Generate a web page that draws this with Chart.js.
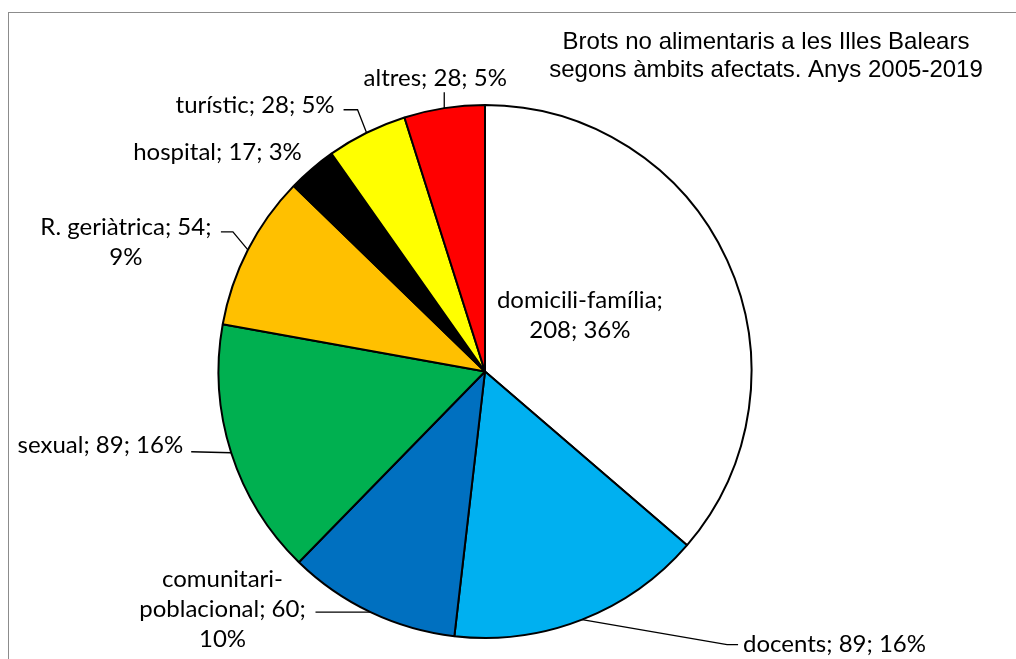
<!DOCTYPE html>
<html lang="ca">
<head>
<meta charset="UTF-8">
<title>Brots no alimentaris</title>
<script src="https://cdn.jsdelivr.net/npm/chart.js"></script>
<style>
    body {
        margin: 0;
        background: #fff;
        overflow: hidden;
    }
    .frame {
        position: absolute;
        left: 8px;
        top: 12px;
        width: 1100px;
        height: 700px;
        border: 1px solid #8c8c8c;
    }
    canvas {
        position: absolute;
        left: 0;
        top: 0;
    }
</style>
</head>
<body>
<div class="frame"></div>
<canvas id="pieChart" width="1016" height="659"></canvas>
<script>
// data
const categories = ['domicili-família', 'docents', 'comunitari-poblacional', 'sexual',
                    'R. geriàtrica', 'hospital', 'turístic', 'altres'];
const outbreaks = [208, 89, 60, 89, 54, 17, 28, 28];
const titleLines = ['Brots no alimentaris a les Illes Balears',
                    'segons àmbits afectats. Anys 2005-2019'];

// styles
const sliceColors = ['#ffffff', '#00b0f0', '#0070c0', '#00b050',
                     '#ffc000', '#000000', '#ffff00', '#ff0000'];
const LABEL_FONT = '24px Lato';
const LABEL_LINE = 30;
const TITLE_FONT = '24px "Liberation Sans"';

// label placement, offsets in px from the middle of each slice's outer edge
const labelLayout = [
    { inside: true, cx: 0.356, cy: -0.21, align: 'center', lines: ['{n};', '{v}; {p}%'] },
    { x: 161, y: 25, align: 'left', lines: ['{n}; {v}; {p}%'], leader: [[145, 25], [156, 25]] },
    { x: -148, y: -3, align: 'center', lines: ['{n0}', '{n1}; {v};', '{p}%'], leader: [[-55, 0]] },
    { x: -48, y: -7, align: 'right', lines: ['{n}; {v}; {p}%'], leader: [[-40, -1]] },
    { x: -122, y: -8, align: 'center', lines: ['{n}; {v};', '{p}%'], leader: [[-15, -18], [-27, -18]] },
    { x: -10, y: -17, align: 'right', lines: ['{n}; {v}; {p}%'] },
    { x: -32, y: -28, align: 'right', lines: ['{n}; {v}; {p}%'], leader: [[-9, -23], [-23, -23]] },
    { x: -9, y: -30, align: 'center', lines: ['{n}; {v}; {p}%'], leader: [[0, -16]] }
];

const sliceLabels = {
    id: 'sliceLabels',
    afterDatasetsDraw(chart) {
        const ctx = chart.ctx;
        const arcs = chart.getDatasetMeta(0).data;
        const total = outbreaks.reduce((a, b) => a + b, 0);
        ctx.save();
        ctx.font = LABEL_FONT;
        ctx.fillStyle = '#000';
        ctx.strokeStyle = '#000';
        ctx.lineWidth = 1.3;
        ctx.textBaseline = 'middle';
        arcs.forEach((arc, i) => {
            const lay = labelLayout[i];
            const p = arc.getProps(['x', 'y', 'outerRadius', 'startAngle', 'endAngle'], true);
            const mid = (p.startAngle + p.endAngle) / 2;
            const ax = p.x + Math.cos(mid) * p.outerRadius;
            const ay = p.y + Math.sin(mid) * p.outerRadius;
            const name = categories[i];
            const cut = name.indexOf('-') + 1;
            const pct = Math.round(outbreaks[i] / total * 100);
            const lines = lay.lines.map(t => t
                .replace('{n0}', name.slice(0, cut))
                .replace('{n1}', name.slice(cut))
                .replace('{n}', name)
                .replace('{v}', outbreaks[i])
                .replace('{p}', pct));

            let tx, ty;
            if (lay.inside) {
                tx = p.x + lay.cx * p.outerRadius;
                ty = p.y + lay.cy * p.outerRadius;
            } else {
                tx = ax + lay.x;
                ty = ay + lay.y;
            }
            if (lay.leader) {
                ctx.beginPath();
                ctx.moveTo(ax, ay);
                lay.leader.forEach(pt => ctx.lineTo(ax + pt[0], ay + pt[1]));
                ctx.stroke();
            }
            ctx.textAlign = lay.align;
            lines.forEach((s, k) => {
                ctx.fillText(s, tx, ty + (k - (lines.length - 1) / 2) * LABEL_LINE);
            });
        });

        // title
        ctx.font = TITLE_FONT;
        ctx.textAlign = 'center';
        ctx.textBaseline = 'alphabetic';
        ctx.fillText(titleLines[0], 766, 49);
        ctx.fillText(titleLines[1], 766, 77);
        ctx.restore();
    }
};

new Chart(document.getElementById('pieChart'), {
    type: 'pie',
    data: {
        labels: categories,
        datasets: [{
            data: outbreaks,
            backgroundColor: sliceColors,
            borderColor: '#000',
            borderWidth: 2
        }]
    },
    options: {
        responsive: false,
        animation: false,
        layout: {
            padding: { top: 104, bottom: 20, left: 0, right: 46 }
        },
        plugins: {
            legend: { display: false },
            tooltip: { enabled: false },
            title: { display: false }
        }
    },
    plugins: [sliceLabels]
});
</script>
</body>
</html>
